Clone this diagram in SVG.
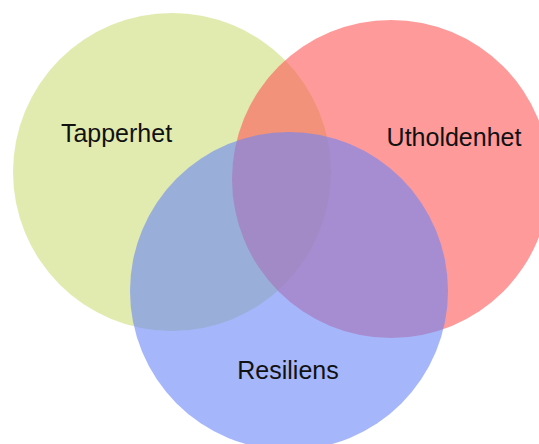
<svg xmlns="http://www.w3.org/2000/svg" width="539" height="444" viewBox="0 0 539 444">
  <style>
    .set { fill-opacity: 0.6; }
    .lbl { font-family: "Liberation Sans", Arial, sans-serif; font-size: 25px; fill: #111111; text-anchor: middle; }
  </style>
  <rect width="539" height="444" fill="#ffffff"/>
  <g id="tapperhet">
    <circle cx="172" cy="172" r="159" fill="#cdde7b" class="set"/>
  </g>
  <g id="utholdenhet">
    <circle cx="391" cy="179" r="159" fill="#fd5757" class="set"/>
  </g>
  <g id="resiliens">
    <circle cx="289" cy="291" r="159" fill="#6b85f7" class="set"/>
  </g>
  <g id="labels">
    <text class="lbl" x="116.5" y="142">Tapperhet</text>
    <text class="lbl" x="454" y="146">Utholdenhet</text>
    <text class="lbl" x="288" y="379">Resiliens</text>
  </g>
</svg>
